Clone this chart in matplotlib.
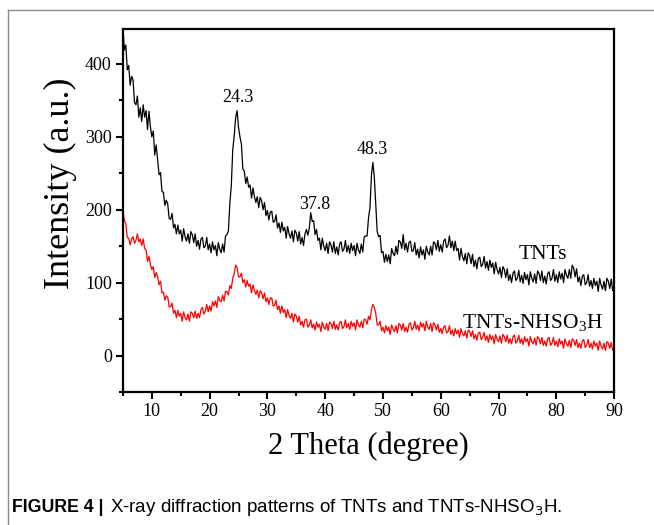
import numpy as np
import matplotlib
matplotlib.use("Agg")
import matplotlib.pyplot as plt
from matplotlib.lines import Line2D
from matplotlib.ticker import MultipleLocator

plt.rcParams['font.family'] = ['Liberation Serif', 'DejaVu Serif']
plt.rcParams['mathtext.fontset'] = 'custom'
plt.rcParams['mathtext.rm'] = 'Liberation Serif'
plt.rcParams['mathtext.it'] = 'Liberation Serif'

# 2 theta grid, 5 -> 90 deg, step 0.25
two_theta = np.arange(5, 90.001, 0.25)

# TNTs intensity (4 values per degree)
tnts = [
    450, 419, 426, 392,   # 5
    398, 371, 383, 378,   # 6
    347, 344, 356, 327,   # 7
    340, 321, 344, 327,   # 8
    336, 310, 335, 314,   # 9
    300, 308, 275, 289,   # 10
    268, 248, 251, 225,   # 11
    224, 206, 213, 208,   # 12
    188, 187, 195, 175,   # 13
    180, 167, 179, 167,   # 14
    172, 157, 174, 163,   # 15
    157, 167, 154, 170,   # 16
    166, 155, 167, 150,   # 17
    158, 146, 160, 162,   # 18
    148, 150, 162, 145,   # 19
    153, 141, 156, 145,   # 20
    151, 137, 155, 146,   # 21
    141, 153, 142, 164,   # 22
    166, 171, 209, 233,   # 23
    282, 301, 326, 336,   # 24
    313, 300, 290, 256,   # 25
    253, 236, 245, 231,   # 26
    234, 216, 230, 218,   # 27
    210, 218, 203, 217,   # 28
    212, 200, 210, 192,   # 29
    199, 186, 197, 198,   # 30
    183, 184, 193, 175,   # 31
    182, 169, 183, 171,   # 32
    176, 161, 177, 167,   # 33
    161, 171, 156, 172,   # 34
    168, 157, 170, 153,   # 35
    162, 151, 167, 173,   # 36
    165, 175, 196, 184,   # 37
    185, 166, 173, 158,   # 38
    161, 145, 161, 150,   # 39
    144, 154, 140, 156,   # 40
    152, 142, 156, 140,   # 41
    149, 138, 153, 156,   # 42
    143, 146, 158, 142,   # 43
    151, 140, 154, 144,   # 44
    151, 137, 154, 145,   # 45
    140, 153, 142, 163,   # 46
    164, 164, 189, 203,   # 47
    247, 265, 245, 208,   # 48
    170, 163, 165, 141,   # 49
    143, 128, 139, 129,   # 50
    138, 126, 147, 140,   # 51
    137, 150, 139, 158,   # 52
    156, 147, 166, 145,   # 53
    154, 142, 155, 157,   # 54
    143, 144, 155, 138,   # 55
    146, 134, 149, 138,   # 56
    145, 132, 150, 142,   # 57
    138, 150, 138, 156,   # 58
    154, 145, 158, 143,   # 59
    152, 142, 157, 160,   # 60
    148, 151, 164, 148,   # 61
    157, 144, 157, 144,   # 62
    147, 131, 147, 136,   # 63
    130, 140, 126, 141,   # 64
    137, 126, 139, 122,   # 65
    131, 119, 133, 135,   # 66
    122, 125, 136, 120,   # 67
    129, 117, 131, 121,   # 68
    127, 112, 128, 118,   # 69
    112, 121, 107, 122,   # 70
    118, 107, 119, 103,   # 71
    111, 100, 113, 116,   # 72
    103, 106, 117, 101,   # 73
    110, 99, 114, 104,    # 74
    111, 97, 115, 106,    # 75
    101, 112, 99, 116,    # 76
    113, 103, 116, 100,   # 77
    109, 98, 112, 115,    # 78
    103, 106, 118, 102,   # 79
    111, 100, 115, 105,   # 80
    113, 100, 118, 110,   # 81
    106, 118, 106, 124,   # 82
    120, 108, 119, 101,   # 83
    108, 96, 109, 111,    # 84
    97, 100, 111, 95,     # 85
    103, 92, 106, 96,     # 86
    102, 88, 106, 97,     # 87
    91, 102, 89, 106,     # 88
    102, 92, 105, 89,     # 89
    96,                   # 90
]

# TNTs-NHSO3H intensity
tnts_nhso3h = [
    199, 185, 181, 162,   # 5
    161, 152, 160, 163,   # 6
    154, 158, 167, 156,   # 7
    160, 151, 160, 147,   # 8
    145, 129, 136, 125,   # 9
    118, 122, 107, 114,   # 10
    108, 97, 102, 86,     # 11
    87, 76, 82, 80,       # 12
    67, 67, 72, 58,       # 13
    62, 52, 62, 54,       # 14
    58, 47, 60, 52,       # 15
    49, 57, 47, 60,       # 16
    58, 52, 61, 51,       # 17
    58, 52, 63, 66,       # 18
    57, 61, 70, 60,       # 19
    68, 61, 74, 68,       # 20
    75, 66, 81, 75,       # 21
    74, 83, 75, 88,       # 22
    88, 83, 96, 92,       # 23
    106, 112, 124, 121,   # 24
    108, 108, 113, 100,   # 25
    104, 94, 103, 95,     # 26
    98, 86, 97, 89,       # 27
    84, 90, 79, 89,       # 28
    86, 78, 86, 74,       # 29
    79, 70, 79, 79,       # 30
    68, 69, 76, 63,       # 31
    68, 58, 68, 59,       # 32
    63, 52, 63, 55,       # 33
    51, 58, 46, 57,       # 34
    54, 46, 54, 42,       # 35
    47, 39, 49, 50,       # 36
    39, 42, 49, 38,       # 37
    43, 35, 46, 39,       # 38
    43, 33, 46, 39,       # 39
    36, 44, 34, 46,       # 40
    44, 37, 47, 36,       # 41
    42, 35, 45, 47,       # 42
    37, 40, 49, 38,       # 43
    44, 36, 47, 40,       # 44
    45, 35, 49, 42,       # 45
    39, 47, 38, 50,       # 46
    49, 43, 54, 49,       # 47
    63, 70, 66, 58,       # 48
    42, 42, 47, 34,       # 49
    39, 31, 41, 34,       # 50
    39, 29, 42, 36,       # 51
    33, 41, 31, 44,       # 52
    42, 35, 44, 33,       # 53
    39, 32, 43, 45,       # 54
    35, 38, 47, 36,       # 55
    42, 34, 46, 39,       # 56
    44, 34, 47, 39,       # 57
    36, 44, 33, 45,       # 58
    42, 35, 43, 32,       # 59
    37, 30, 39, 41,       # 60
    31, 33, 41, 29,       # 61
    35, 27, 37, 30,       # 62
    35, 25, 37, 30,       # 63
    27, 34, 24, 35,       # 64
    33, 26, 34, 23,       # 65
    29, 21, 31, 32,       # 66
    22, 25, 32, 21,       # 67
    27, 18, 29, 22,       # 68
    27, 16, 29, 22,       # 69
    19, 27, 17, 29,       # 70
    26, 19, 28, 17,       # 71
    23, 16, 26, 28,       # 72
    17, 20, 28, 17,       # 73
    23, 15, 26, 19,       # 74
    23, 13, 26, 19,       # 75
    16, 24, 14, 26,       # 76
    23, 16, 25, 14,       # 77
    20, 13, 23, 25,       # 78
    14, 17, 25, 14,       # 79
    20, 12, 23, 16,       # 80
    20, 10, 23, 16,       # 81
    13, 21, 11, 23,       # 82
    21, 14, 22, 11,       # 83
    17, 10, 20, 22,       # 84
    11, 14, 22, 11,       # 85
    17, 9, 20, 13,        # 86
    17, 7, 20, 13,        # 87
    9, 17, 7, 19,         # 88
    17, 10, 18, 7,        # 89
    12,                   # 90
]

peak_labels = ['24.3', '37.8', '48.3']
peak_pos = [(24.9, 354), (38.2, 207), (48.2, 283)]

fig = plt.figure(figsize=(6.54, 5.25), dpi=100)
ax = fig.add_axes([0.188, 0.2533, 0.751, 0.6915])

ax.plot(two_theta, tnts, color='black', lw=0.9)
ax.plot(two_theta, tnts_nhso3h, color='red', lw=0.9)

ax.set_xlim(5, 90)
ax.set_ylim(-50, 448)
ax.xaxis.set_minor_locator(MultipleLocator(5))
ax.yaxis.set_minor_locator(MultipleLocator(50))
ax.set_xticks(np.arange(10, 91, 10))
ax.set_yticks(np.arange(0, 401, 100))

for s in ax.spines.values():
    s.set_linewidth(1.6)
ax.tick_params(which='major', direction='out', length=5, width=1.5, labelsize=13, pad=3)
ax.tick_params(which='minor', direction='out', length=3, width=1.5)

ax.set_xlabel('2 Theta (degree)', fontsize=22, labelpad=8)
ax.set_ylabel('Intensity (a.u.)', fontsize=26)
ax.yaxis.set_label_coords(-0.094, 0.575)

for lab, (px, py) in zip(peak_labels, peak_pos):
    ax.text(px, py, lab, fontsize=13, ha='center', va='center')

ax.text(77.6, 138, 'TNTs', fontsize=15.5, ha='center', va='center')
ax.text(75.9, 45, 'TNTs-NHSO$_3$H', fontsize=15.5, ha='center', va='center')

# frame around the figure panel
fig.add_artist(Line2D([8/654, 1], [1 - 10/525, 1 - 10/525], color='#8c8c8c', lw=1))
fig.add_artist(Line2D([8/654, 8/654], [0, 1 - 10/525], color='#8c8c8c', lw=1))

# caption
cap_font = ['Liberation Sans', 'DejaVu Sans']
fig.text(12/654, 1 - 508/525, 'FIGURE 4 |', fontsize=12.8, fontweight='bold',
         family=cap_font, va='center', ha='left')
fig.text(110/654, 1 - 508/525, 'X-ray diffraction patterns of TNTs and TNTs-NHSO$_3$H.',
         fontsize=13.5, family=cap_font, va='center', ha='left',
         math_fontfamily='dejavusans')

fig.savefig('out.png', dpi=100)
